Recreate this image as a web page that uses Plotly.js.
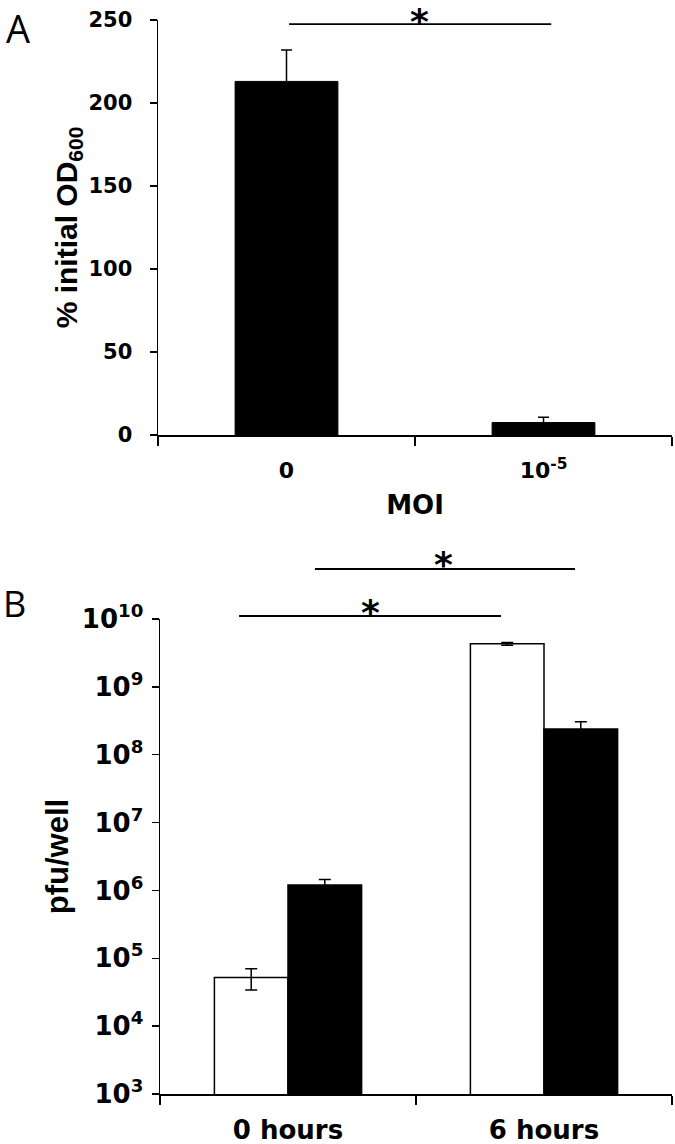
<!DOCTYPE html>
<html>
<head>
<meta charset="utf-8">
<script src="https://cdn.plot.ly/plotly-3.0.1.min.js"></script>
<style>html,body{margin:0;padding:0;background:#fff;}#chart{width:675px;height:1144px;}</style>
</head>
<body>
<div id="chart"></div>
<script>
// Panel A data
const moiCategories = ['0', '10<sup>-5</sup>'];
const odValues = [213, 7.5];
const odErrors = [19, 3.2];

// Panel B data
const timeCategories = ['0 hours', '6 hours'];
const whiteValues = [5.2e4, 4.3e9];
const whiteErrors = [1.8e4, 0.2e9];
const blackValues = [1.2e6, 2.4e8];
const blackErrors = [0.25e6, 0.65e8];

const logTickVals = [1e3, 1e4, 1e5, 1e6, 1e7, 1e8, 1e9, 1e10];
const logTickText = ['10<sup>3</sup>', '10<sup>4</sup>', '10<sup>5</sup>', '10<sup>6</sup>',
                     '10<sup>7</sup>', '10<sup>8</sup>', '10<sup>9</sup>', '10<sup>10</sup>'];

const W = 675, H = 1144;
const px = v => v / W;
const py = v => 1 - v / H;

const boldDV = (size) => ({family: 'DejaVu Sans', size: size, color: '#000', weight: 'bold'});
const boldLS = (size) => ({family: 'Liberation Sans', size: size, color: '#000', weight: 'bold'});

const traces = [
  {
    type: 'bar', x: moiCategories, y: odValues, xaxis: 'x', yaxis: 'y',
    width: 0.4,
    marker: {color: '#000', line: {color: '#000', width: 1}},
    error_y: {type: 'data', array: odErrors, visible: true, color: '#000', thickness: 1.5, width: 5.5},
    showlegend: false, hoverinfo: 'skip'
  },
  {
    type: 'bar', x: timeCategories, y: whiteValues, xaxis: 'x2', yaxis: 'y2',
    marker: {color: '#fff', line: {color: '#000', width: 1.5}},
    error_y: {type: 'data', array: whiteErrors, visible: true, color: '#000', thickness: 1.5, width: 6},
    showlegend: false, hoverinfo: 'skip'
  },
  {
    type: 'bar', x: timeCategories, y: blackValues, xaxis: 'x2', yaxis: 'y2',
    marker: {color: '#000', line: {color: '#000', width: 1.5}},
    error_y: {type: 'data', array: blackErrors, visible: true, color: '#000', thickness: 1.5, width: 6},
    showlegend: false, hoverinfo: 'skip'
  }
];

const commonAxis = {
  showgrid: false, zeroline: false, showline: true, linecolor: '#000', linewidth: 1.5,
  ticks: 'outside', tickcolor: '#000', tickwidth: 1.5, automargin: false, fixedrange: true
};

const layout = {
  width: W, height: H,
  margin: {l: 0, r: 0, t: 0, b: 0},
  paper_bgcolor: '#fff', plot_bgcolor: '#fff',
  barmode: 'group', bargap: 0.425, bargroupgap: 0,
  showlegend: false,
  xaxis: Object.assign({}, commonAxis, {
    domain: [px(158), px(672)], anchor: 'y', type: 'category', range: [-0.5, 1.5],
    tickson: 'boundaries', ticklen: 9, tickfont: boldDV(22), ticklabelstandoff: 15,
    title: {text: 'MOI', font: boldDV(26), standoff: 14}
  }),
  yaxis: Object.assign({}, commonAxis, {
    domain: [py(435), py(20)], anchor: 'x', range: [0, 250], tickvals: [0, 50, 100, 150, 200, 250],
    ticklen: 7, tickfont: boldDV(21), ticklabelstandoff: 13,
    title: {text: '% initial OD<sub>600</sub>', font: boldLS(30), standoff: 2}
  }),
  xaxis2: Object.assign({}, commonAxis, {
    domain: [px(160), px(672)], anchor: 'y2', type: 'category', range: [-0.5, 1.5],
    tickson: 'boundaries', ticklen: 9, tickfont: boldDV(26), ticklabelstandoff: 12
  }),
  yaxis2: Object.assign({}, commonAxis, {
    domain: [py(1094), py(619)], anchor: 'x2', type: 'log', range: [3, 10],
    tickvals: logTickVals, ticktext: logTickText,
    ticklen: 7, tickfont: boldDV(26), ticklabelstandoff: 3,
    title: {text: 'pfu/well', font: boldLS(31), standoff: 4}
  }),
  shapes: [
    {type: 'line', xref: 'x', yref: 'y', x0: 0.01, x1: 1.03, y0: 247.5, y1: 247.5, line: {color: '#000', width: 1.8}},
    {type: 'line', xref: 'x2', yref: 'paper', x0: 0.105, x1: 1.121, y0: py(569), y1: py(569), line: {color: '#000', width: 1.8}},
    {type: 'line', xref: 'x2', yref: 'paper', x0: -0.191, x1: 0.832, y0: py(616), y1: py(616), line: {color: '#000', width: 1.8}}
  ],
  annotations: [
    {text: 'A', xref: 'paper', yref: 'paper', x: px(18), y: py(28), xanchor: 'center', yanchor: 'middle', showarrow: false,
     font: {family: 'Open Sans', size: 38, color: '#000'}},
    {text: 'B', xref: 'paper', yref: 'paper', x: px(14), y: py(603), xanchor: 'center', yanchor: 'middle', showarrow: false,
     font: {family: 'Open Sans', size: 36, color: '#000'}},
    {text: '*', xref: 'paper', yref: 'paper', x: px(419), y: 1, xanchor: 'center', yanchor: 'top', showarrow: false,
     borderpad: 0, font: boldDV(36)},
    {text: '*', xref: 'paper', yref: 'paper', x: px(443), y: py(543), xanchor: 'center', yanchor: 'top', showarrow: false,
     borderpad: 0, font: boldDV(36)},
    {text: '*', xref: 'paper', yref: 'paper', x: px(370), y: py(591), xanchor: 'center', yanchor: 'top', showarrow: false,
     borderpad: 0, font: boldDV(36)}
  ]
};

Plotly.newPlot('chart', traces, layout, {staticPlot: true, displayModeBar: false});
</script>
</body>
</html>
